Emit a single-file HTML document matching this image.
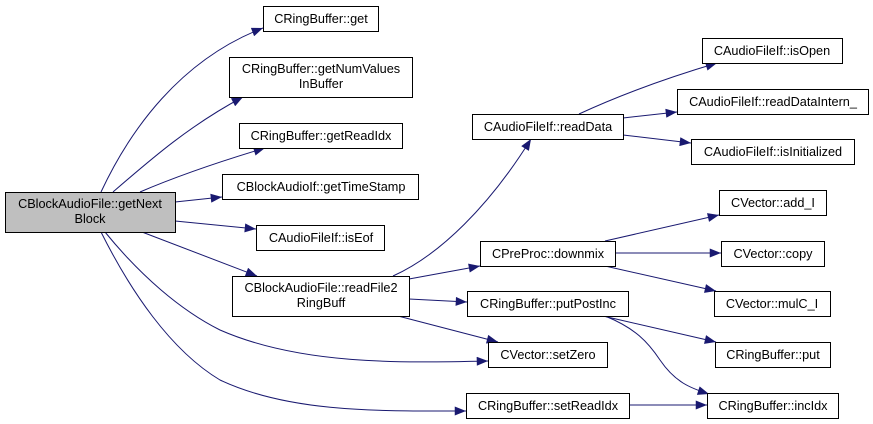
<!DOCTYPE html>
<html><head><meta charset="utf-8"><style>
html,body{margin:0;padding:0;background:#fff;width:873px;height:424px;overflow:hidden}
svg text{font-family:"Liberation Sans",Arial,sans-serif;font-size:12.7px;fill:#000}
</style></head><body>
<svg width="873" height="424" viewBox="0 0 873 424">
<defs>
<marker id="ah" viewBox="0 0 10 8" refX="10" refY="4" markerWidth="13" markerHeight="9" markerUnits="userSpaceOnUse" orient="auto">
<path d="M0,0 L10,4 L0,8 z" fill="#191970"/>
</marker>
</defs>
<g fill="none" stroke="#191970" stroke-width="1" marker-end="url(#ah)">
<path d="M101,192 C130,130 180,60 263,28"/>
<path d="M113,192 C150,160 190,125 243,97"/>
<path d="M140,192 C175,177 215,163 265,148"/>
<path d="M175,202 L222,197"/>
<path d="M175,221 L256,229"/>
<path d="M142,232 L257,276"/>
<path d="M105,232 C140,275 180,310 220,330 C300,365 400,363 488,361"/>
<path d="M101,232 C130,290 170,350 220,380 C290,413 380,411 466,411"/>
<path d="M393,276 C440,255 490,205 531,139"/>
<path d="M409,279 L480,266"/>
<path d="M409,299 L467,302"/>
<path d="M398,316 L498,342"/>
<path d="M579,114 C620,95 670,77 717,63"/>
<path d="M623,118 L677,112"/>
<path d="M623,135 L691,143"/>
<path d="M605,241 L719,215"/>
<path d="M615,253 L721,253"/>
<path d="M605,266 L716,291"/>
<path d="M603,316 L716,342"/>
<path d="M605,316 C635,328 648,342 660,360 C675,382 690,388 709,394"/>
<path d="M629,405 L707,405"/>
</g>
<g stroke="#000" stroke-width="1" fill="#fff">
<rect x="5.5" y="192.5" width="170" height="40" fill="#bfbfbf"/>
<rect x="263.5" y="6.5" width="115" height="25"/>
<rect x="229.5" y="57.5" width="183" height="40"/>
<rect x="239.5" y="123.5" width="163" height="25"/>
<rect x="222.5" y="174.5" width="196" height="25"/>
<rect x="256.5" y="225.5" width="128" height="25"/>
<rect x="232.5" y="276.5" width="177" height="40"/>
<rect x="472.5" y="114.5" width="151" height="25"/>
<rect x="702.5" y="38.5" width="140" height="25"/>
<rect x="677.5" y="89.5" width="191" height="25"/>
<rect x="691.5" y="139.5" width="163" height="25"/>
<rect x="719.5" y="190.5" width="107" height="25"/>
<rect x="721.5" y="241.5" width="103" height="25"/>
<rect x="714.5" y="291.5" width="116" height="25"/>
<rect x="480.5" y="241.5" width="135" height="25"/>
<rect x="467.5" y="291.5" width="161" height="25"/>
<rect x="488.5" y="342.5" width="119" height="25"/>
<rect x="715.5" y="342.5" width="115" height="25"/>
<rect x="466.5" y="393.5" width="163" height="25"/>
<rect x="707.5" y="393.5" width="131" height="25"/>
</g>
<g text-anchor="middle">
<text x="90" y="208">CBlockAudioFile::getNext</text>
<text x="90" y="223">Block</text>
<text x="321" y="23">CRingBuffer::get</text>
<text x="321" y="73">CRingBuffer::getNumValues</text>
<text x="321" y="88">InBuffer</text>
<text x="321" y="140">CRingBuffer::getReadIdx</text>
<text x="321" y="191">CBlockAudioIf::getTimeStamp</text>
<text x="321" y="242">CAudioFileIf::isEof</text>
<text x="321" y="292">CBlockAudioFile::readFile2</text>
<text x="321" y="307">RingBuff</text>
<text x="548" y="131">CAudioFileIf::readData</text>
<text x="772" y="55">CAudioFileIf::isOpen</text>
<text x="773" y="106">CAudioFileIf::readDataIntern_</text>
<text x="773" y="156">CAudioFileIf::isInitialized</text>
<text x="773" y="207">CVector::add_I</text>
<text x="773" y="258">CVector::copy</text>
<text x="772" y="308">CVector::mulC_I</text>
<text x="548" y="258">CPreProc::downmix</text>
<text x="548" y="308">CRingBuffer::putPostInc</text>
<text x="548" y="359">CVector::setZero</text>
<text x="773" y="359">CRingBuffer::put</text>
<text x="548" y="410">CRingBuffer::setReadIdx</text>
<text x="773" y="410">CRingBuffer::incIdx</text>
</g>
</svg>
</body></html>
